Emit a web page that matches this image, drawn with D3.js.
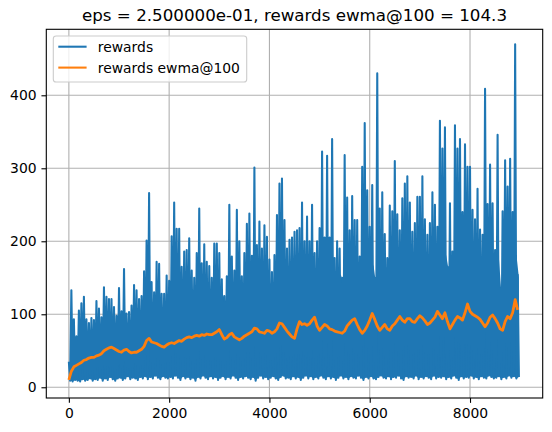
<!DOCTYPE html>
<html>
<head>
<meta charset="utf-8">
<script src="https://cdn.jsdelivr.net/npm/d3@7"></script>
<style>
  html, body { margin: 0; padding: 0; background: #fff; }
  svg { display: block; }
  text { font-family: "DejaVu Sans", sans-serif; fill: #000; }
</style>
</head>
<body>
<svg id="chart" width="552" height="432"></svg>
<script>
// ---- data (episodes binned by 50) ----
const binSize = 50;
const episodes = d3.range(0, 9000, binSize);

// per-bin peak of the raw rewards
const rewardsHigh = [
  35, 133, 93, 70, 105, 115, 124, 93, 88, 95,
  92, 118, 108, 96, 137, 124, 121, 121, 110, 98,
  136, 104, 162, 101, 103, 112, 140, 133, 121, 125,
  159, 201, 266, 144, 130, 172, 169, 128, 128, 153,
  146, 207, 253, 217, 217, 165, 186, 188, 204, 160,
  150, 184, 245, 170, 196, 172, 166, 150, 197, 197,
  184, 148, 125, 152, 250, 179, 160, 243, 200, 152,
  184, 224, 238, 180, 301, 195, 227, 190, 222, 206,
  175, 158, 181, 236, 279, 286, 229, 190, 202, 205,
  213, 215, 218, 253, 200, 234, 200, 250, 184, 200,
  218, 323, 205, 317, 205, 340, 177, 200, 190, 150,
  318, 260, 215, 262, 229, 229, 179, 302, 362, 270,
  220, 277, 150, 430, 245, 267, 210, 177, 249, 241,
  310, 237, 215, 259, 279, 289, 253, 213, 225, 261,
  261, 289, 230, 209, 225, 267, 250, 220, 365, 327,
  356, 165, 252, 186, 359, 327, 340, 240, 333, 302,
  302, 243, 230, 272, 216, 209, 409, 251, 305, 252,
  188, 346, 135, 241, 311, 275, 313, 240, 470, 154
];

// per-bin upper edge of the solid (dense) part of the raw rewards
const rewardsBand = [
  30, 55, 62, 60, 66, 70, 72, 74, 76, 78,
  80, 82, 80, 84, 86, 85, 88, 87, 86, 84,
  88, 86, 90, 88, 86, 90, 92, 90, 94, 95,
  98, 104, 106, 102, 100, 105, 104, 100, 102, 106,
  116, 120, 123, 122, 120, 124, 126, 123, 128, 126,
  126, 130, 132, 128, 133, 130, 134, 128, 136, 135,
  134, 126, 118, 128, 136, 134, 130, 138, 136, 132,
  138, 140, 142, 140, 144, 142, 146, 142, 144, 143,
  142, 138, 144, 148, 150, 152, 148, 144, 146, 148,
  150, 152, 152, 154, 150, 154, 152, 156, 150, 154,
  156, 158, 156, 160, 156, 160, 154, 156, 154, 142,
  158, 160, 158, 162, 160, 162, 156, 164, 166, 164,
  165, 167, 142, 169, 167, 170, 165, 161, 169, 170,
  173, 171, 169, 173, 175, 177, 175, 171, 173, 175,
  177, 179, 175, 173, 175, 179, 177, 175, 181, 180,
  181, 160, 177, 175, 183, 181, 183, 179, 183, 181,
  178, 176, 174, 178, 172, 170, 180, 176, 180, 176,
  170, 178, 130, 174, 180, 178, 182, 176, 182, 150
];

// per-bin trough of the raw rewards
const rewardsLow = [
  9, 8, 10, 9, 8, 11, 9, 10, 12, 9,
  11, 10, 13, 9, 12, 10, 14, 11, 9, 12,
  13, 10, 12, 15, 11, 13, 12, 10, 14, 12,
  15, 11, 14, 12, 16, 13, 11, 15, 13, 12,
  14, 12, 16, 13, 10, 15, 12, 14, 11, 13,
  9, 14, 12, 16, 13, 11, 15, 12, 14, 10,
  13, 15, 11, 14, 12, 16, 13, 10, 14, 12,
  15, 13, 11, 14, 9, 13, 16, 12, 14, 11,
  13, 15, 12, 10, 14, 16, 12, 13, 11, 15,
  12, 14, 10, 13, 16, 12, 15, 11, 14, 12,
  16, 13, 11, 15, 12, 14, 10, 13, 16, 12,
  14, 11, 15, 13, 12, 16, 13, 10, 14, 12,
  15, 12, 11, 14, 16, 13, 12, 15, 11, 14,
  13, 16, 12, 10, 15, 13, 14, 12, 16, 11,
  14, 12, 15, 13, 11, 16, 12, 14, 13, 15,
  11, 14, 12, 16, 13, 10, 15, 12, 14, 13,
  16, 12, 14, 11, 15, 13, 12, 16, 14, 12,
  13, 15, 11, 14, 12, 16, 13, 15, 12, 14
];

// EWMA@100 of rewards, one value per bin
const ewma = [
  10, 22, 28, 30, 32, 34, 37, 38, 40, 41,
  41, 43, 44, 46, 50, 52, 54, 55, 53, 51,
  49, 48, 51, 52, 49, 47, 48, 48, 50, 52,
  56, 64, 67, 62, 61, 60, 58, 56, 55, 58,
  60, 61, 60, 62, 64, 63, 66, 68, 69, 68,
  70, 71, 70, 72, 71, 73, 72, 72, 74, 76,
  79, 72, 66, 68, 72, 74, 69, 67, 65, 67,
  70, 72, 74, 76, 81, 80, 76, 75, 74, 78,
  77, 74, 76, 80, 88, 87, 82, 77, 73, 69,
  67, 80, 90, 86, 87, 85, 87, 92, 96, 84,
  78, 82, 86, 84, 80, 79, 77, 76, 75, 74,
  77, 84, 88, 92, 94, 86, 79, 74, 78, 84,
  92, 101, 93, 84, 78, 82, 86, 80, 78, 84,
  87, 92, 97, 92, 89, 94, 94, 90, 89, 94,
  98, 95, 91, 86, 88, 92, 96, 104, 99, 94,
  102, 90, 80, 86, 92, 97, 95, 92, 102, 114,
  104, 100, 98, 96, 93, 88, 83, 88, 96, 99,
  94, 88, 80, 78, 90, 97, 94, 102, 120, 106
];

const xTicks = [0, 2000, 4000, 6000, 8000];
const yTicks = [0, 100, 200, 300, 400];
const titleText = "eps = 2.500000e-01, rewards ewma@100 = 104.3";
const legendLabels = ["rewards", "rewards ewma@100"];
const colors = ["#1f77b4", "#ff7f0e"];

// ---- layout ----
const plot = { left: 46.3, right: 542.7, top: 29.3, bottom: 398 };
const svg = d3.select("#chart");

const x = d3.scaleLinear().domain([-450, 9449.5]).range([plot.left, plot.right]);
const y = d3.scaleLinear().domain([-14.7, 490.4]).range([plot.bottom, plot.top]);

// grid
const grid = svg.append("g").attr("stroke", "#b0b0b0").attr("stroke-width", 1.1);
grid.selectAll("line.gx").data(xTicks).join("line")
  .attr("x1", d => x(d)).attr("x2", d => x(d))
  .attr("y1", plot.top).attr("y2", plot.bottom);
grid.selectAll("line.gy").data(yTicks).join("line")
  .attr("x1", plot.left).attr("x2", plot.right)
  .attr("y1", d => y(d)).attr("y2", d => y(d));

svg.append("clipPath").attr("id", "clip").append("rect")
  .attr("x", plot.left).attr("y", plot.top)
  .attr("width", plot.right - plot.left).attr("height", plot.bottom - plot.top);

const marks = svg.append("g").attr("clip-path", "url(#clip)");

// dense core of the rewards
const core = d3.area()
  .x((d, i) => x(episodes[i] + binSize / 2))
  .y0((d, i) => y(rewardsLow[i]))
  .y1((d, i) => y(rewardsBand[i]));
marks.append("path").attr("d", core(episodes)).attr("fill", colors[0]);

// rewards zigzag (peak then trough per bin)
const rewardPts = [];
episodes.forEach((e, i) => {
  rewardPts.push([e, rewardsHigh[i]]);
  rewardPts.push([e + binSize / 2, rewardsLow[i]]);
});
const line = d3.line().x(d => x(d[0])).y(d => y(d[1]));
marks.append("path")
  .attr("d", line(rewardPts))
  .attr("fill", "none").attr("stroke", colors[0])
  .attr("stroke-width", 2.08).attr("stroke-linejoin", "round");

marks.append("path")
  .attr("d", line(episodes.map((e, i) => [e, ewma[i]])))
  .attr("fill", "none").attr("stroke", colors[1])
  .attr("stroke-width", 2.8).attr("stroke-linejoin", "round");

// axes
const xAxis = d3.axisBottom(x).tickValues(xTicks).tickSize(4.86).tickPadding(4.86).tickFormat(d3.format("d"));
const yAxis = d3.axisLeft(y).tickValues(yTicks).tickSize(4.86).tickPadding(4.86).tickFormat(d3.format("d"));
const gx = svg.append("g").attr("transform", `translate(0,${plot.bottom})`).call(xAxis);
const gy = svg.append("g").attr("transform", `translate(${plot.left},0)`).call(yAxis);
[gx, gy].forEach(g => {
  g.select(".domain").remove();
  g.selectAll(".tick line").attr("stroke", "#000").attr("stroke-width", 1.1);
  g.selectAll(".tick text").attr("font-family", "DejaVu Sans").attr("font-size", 13.9).attr("fill", "#000");
});

// spines
svg.append("rect")
  .attr("x", plot.left).attr("y", plot.top)
  .attr("width", plot.right - plot.left).attr("height", plot.bottom - plot.top)
  .attr("fill", "none").attr("stroke", "#000").attr("stroke-width", 1.1);

// title
svg.append("text")
  .attr("x", (plot.left + plot.right) / 2).attr("y", 21)
  .attr("text-anchor", "middle").attr("font-size", 16.7)
  .text(titleText);

// legend
const lg = svg.append("g");
lg.append("rect")
  .attr("x", 53.3).attr("y", 36).attr("width", 193.4).attr("height", 46)
  .attr("rx", 2.8).attr("fill", "#fff").attr("fill-opacity", 0.8)
  .attr("stroke", "#cccccc").attr("stroke-width", 1.1);
legendLabels.forEach((lab, i) => {
  const yy = 46.7 + i * 20.9;
  lg.append("line").attr("x1", 58.3).attr("x2", 86.6).attr("y1", yy).attr("y2", yy)
    .attr("stroke", colors[i]).attr("stroke-width", 2.08);
  lg.append("text").attr("x", 97.8).attr("y", yy + 5).attr("font-size", 13.9).text(lab);
});
</script>
</body>
</html>
